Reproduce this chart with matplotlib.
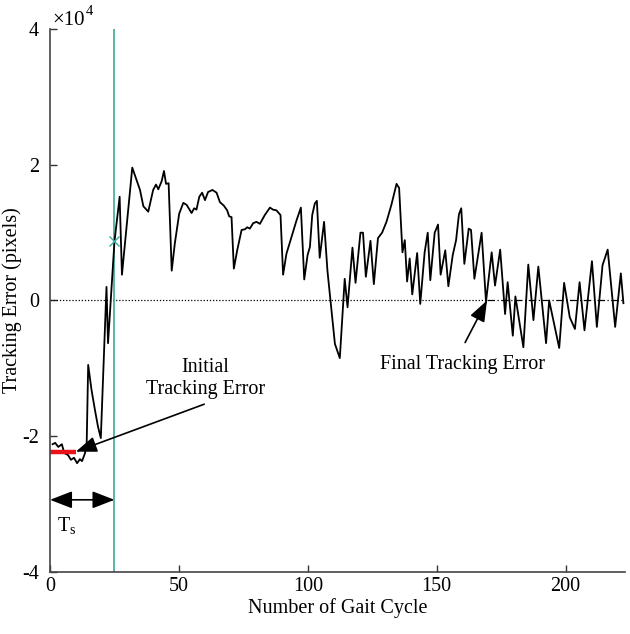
import numpy as np
import matplotlib
matplotlib.use("Agg")
import matplotlib.pyplot as plt

# ======================================================
# Tracking error per gait cycle (values in units of 1e4 pixels)
# ======================================================
cycle = [
    1.0, 2.0, 3.2, 4.6, 5.5, 7.0, 8.1, 9.3, 10.5, 11.6, 12.4, 13.5, 14.2, 14.8,
    16.1, 17.4, 18.6, 19.7, 21.9, 22.5, 25.0, 27.0, 27.9, 31.9, 34.9, 36.2,
    38.1, 40.0, 41.1, 42.0, 43.3, 44.2, 45.0, 46.0, 47.2, 48.4, 50.1, 51.7,
    53.0, 54.9, 55.9, 56.8, 57.9, 59.0, 60.1, 61.3, 63.0, 64.6, 65.9, 67.4,
    68.7, 69.5, 70.4, 71.3, 72.6, 74.3, 75.6, 76.5, 77.5, 78.8, 80.1, 81.4,
    83.3, 85.3, 86.5, 87.8, 89.4, 90.4, 91.7, 93.7, 95.6, 97.3, 98.6, 99.9,
    100.8, 101.7, 102.7, 103.5, 104.6, 106.3, 107.6, 108.9, 110.5, 112.4,
    114.3, 115.4, 117.3, 118.5, 120.4, 121.4, 122.5, 124.3, 125.6, 127.2,
    128.8, 130.5, 132.4, 134.4, 135.4, 136.7, 137.6, 138.5, 139.5, 140.5,
    142.4, 143.6, 145.3, 146.5, 147.5, 149.2, 150.5, 151.5, 153.3, 154.5,
    156.2, 157.5, 158.6, 159.5, 160.7, 162.4, 163.3, 164.6, 167.4, 169.1,
    171.3, 172.6, 174.6, 176.5, 177.5, 179.5, 180.5, 183.6, 185.5, 187.5,
    189.4, 192.4, 193.6, 197.5, 199.4, 201.6, 203.6, 205.4, 207.3, 210.2,
    212.1, 214.3, 216.3, 219.2, 221.4, 222.4,
]
error = [
    -2.12, -2.10, -2.16, -2.12, -2.25, -2.28, -2.35, -2.32, -2.40, -2.34, -2.37,
    -2.26, -2.15, -0.95, -1.32, -1.61, -1.86, -2.03, 0.20, -0.63, 0.87, 1.53,
    0.38, 1.96, 1.63, 1.39, 1.31, 1.63, 1.71, 1.64, 1.76, 1.91, 1.72, 1.73,
    0.44, 0.84, 1.28, 1.44, 1.41, 1.29, 1.36, 1.34, 1.53, 1.59, 1.48, 1.60,
    1.63, 1.59, 1.45, 1.40, 1.33, 1.24, 1.23, 0.47, 0.74, 1.04, 1.05, 1.08,
    1.06, 1.14, 1.16, 1.13, 1.26, 1.37, 1.34, 1.33, 1.26, 0.38, 0.69, 0.94,
    1.18, 1.37, 0.31, 0.67, 0.79, 1.26, 1.43, 1.47, 0.63, 1.16, 0.44, -0.05,
    -0.64, -0.85, 0.32, -0.10, 0.78, 0.26, 1.00, 1.00, 0.35, 0.88, 0.24, 0.92,
    1.00, 1.16, 1.41, 1.72, 1.66, 0.71, 0.89, 0.28, 0.62, 0.09, 0.70, -0.05,
    0.71, 1.00, 0.30, 1.00, 1.12, 0.38, 0.74, 0.21, 0.67, 0.89, 1.27, 1.36,
    0.54, 1.06, 1.04, 0.32, 1.00, -0.02, 0.71, 0.22, 0.75, -0.20, 0.27, -0.52,
    0.06, -0.69, 0.53, -0.29, 0.50, -0.63, 0.00, -0.70, 0.26, -0.25, -0.42,
    0.27, -0.44, 0.58, -0.39, 0.52, 0.75, -0.39, 0.40, -0.04,
]

settle_cycle = 25          # T_s
settle_value = 0.87        # marker on the settling line
initial_error = -2.23      # red reference segment
initial_span = [0, 10]
final_cycle = 169.5

x_ticks = [0, 50, 100, 150, 200]
y_ticks = [-4, -2, 0, 2, 4]

TEAL = "#3aab9c"
SERIF = ["Liberation Serif", "DejaVu Serif"]


def main():
    plt.rcParams["font.family"] = SERIF
    plt.rcParams["mathtext.fontset"] = "custom"
    plt.rcParams["mathtext.rm"] = "Liberation Serif"
    plt.rcParams["mathtext.it"] = "Liberation Serif:italic"
    plt.rcParams["axes.unicode_minus"] = False

    fig = plt.figure(figsize=(6.3, 6.34), dpi=100)
    ax = fig.add_axes([0.0794, 0.0983, 0.9126, 0.8555])

    # zero reference: dotted before the final point, dash-dot after it
    ax.plot([0, final_cycle], [0, 0], color="k", lw=0.9, linestyle=(0, (1, 1.5)))
    ax.plot([final_cycle, 223], [0, 0], color="k", lw=0.9, linestyle=(0, (6, 2, 1, 2)))

    ax.axvline(settle_cycle, color=TEAL, lw=1.2)
    ax.plot(cycle, error, color="k", lw=1.3)
    ax.plot([settle_cycle], [settle_value], marker="x", color=TEAL, ms=7, mew=1.0)
    ax.plot(initial_span, [initial_error, initial_error], color="#e8141a", lw=3.2,
            solid_capstyle="butt")

    head = "-|>,head_length=0.8,head_width=0.3"
    ax.annotate("", xy=(10, initial_error), xytext=(59.8, -1.53),
                arrowprops=dict(arrowstyle=head, mutation_scale=16, color="k",
                                lw=1.2, shrinkA=0, shrinkB=0))
    ax.text(60.2, -1.15, "Initial\nTracking Error", ha="center", va="center",
            fontsize=14.5, linespacing=1.15)

    ax.annotate("", xy=(final_cycle, 0), xytext=(161.0, -0.62),
                arrowprops=dict(arrowstyle=head, mutation_scale=16, color="k",
                                lw=1.2, shrinkA=0, shrinkB=0))
    ax.text(159.8, -0.94, "Final Tracking Error", ha="center", va="center", fontsize=14.5)

    ax.annotate("", xy=(0, -2.94), xytext=(settle_cycle, -2.94),
                arrowprops=dict(arrowstyle="<|-|>,head_length=0.85,head_width=0.33",
                                mutation_scale=16, color="k", lw=1.2,
                                shrinkA=0, shrinkB=0))
    ax.text(6.5, -3.32, r"T$_{\mathrm{s}}$", ha="center", va="center", fontsize=14.5)

    ax.set_xlim(0, 223)
    ax.set_ylim(-4, 4)
    ax.set_xticks(x_ticks)
    ax.set_yticks(y_ticks)
    ax.set_yticklabels([str(v) for v in y_ticks])
    ax.tick_params(direction="in", length=5, width=1, labelsize=14.5, colors="#333333",
                   labelcolor="k")
    ax.tick_params(axis="y", pad=8)

    for side in ["top", "right"]:
        ax.spines[side].set_visible(False)
    for side in ["left", "bottom"]:
        ax.spines[side].set_color("#444444")
        ax.spines[side].set_linewidth(1.2)

    ax.set_xlabel("Number of Gait Cycle", fontsize=14.5, labelpad=2)
    ax.set_ylabel("Tracking Error (pixels)", fontsize=14.5, labelpad=0)

    # exponent label above the y axis
    fig.text(52 / 630, 1 - 25 / 634, "\u00d710", fontsize=15, ha="left", va="baseline")
    fig.text(86 / 630, 1 - 15 / 634, "4", fontsize=10.5, ha="left", va="baseline")

    fig.savefig("out.png", dpi=100)
    plt.close(fig)


if __name__ == "__main__":
    main()
